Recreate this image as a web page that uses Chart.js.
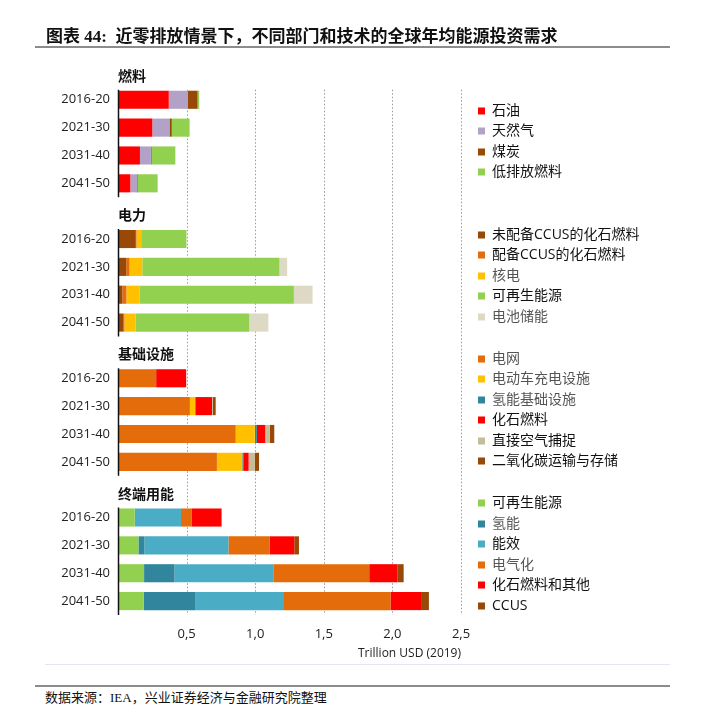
<!DOCTYPE html>
<html>
<head>
<meta charset="utf-8">
<script src="https://cdn.jsdelivr.net/npm/chart.js@4.4.1/dist/chart.umd.min.js"></script>
<style>
  body { margin: 0; background: #fff; width: 705px; height: 713px; position: relative; overflow: hidden; }
  #chartBox { position: absolute; left: 0; top: 0; }
  .title { position: absolute; left: 46px; top: 22px; font: bold 17px "Liberation Serif", "Noto Sans CJK SC"; color: #111; white-space: nowrap; }
  .rule { position: absolute; left: 35px; width: 635px; height: 2px; background: #8c8c8c; }
  .faint { position: absolute; left: 45px; top: 664px; width: 625px; height: 1px; background: #e3e8f0; }
  .source { position: absolute; left: 45px; top: 687px; font: 13px "Liberation Serif", "Noto Sans CJK SC"; color: #111; white-space: nowrap; }
</style>
</head>
<body>
<canvas id="chartBox" width="705" height="680"></canvas>
<div class="title">图表 44:&nbsp; 近零排放情景下，不同部门和技术的全球年均能源投资需求</div>
<div class="rule" style="top:46px"></div>
<div class="faint"></div>
<div class="rule" style="top:685px"></div>
<div class="source">数据来源：IEA，兴业证券经济与金融研究院整理</div>
<script>
// 기간 / 패널 이름
const periods = ['2016-20', '2021-30', '2031-40', '2041-50'];
const panelTitles = ['燃料', '电力', '基础设施', '终端用能'];
const xTicks = [0.5, 1.0, 1.5, 2.0, 2.5];

// 燃料
const fuelOil = [0.37, 0.25, 0.16, 0.09];
const fuelGas = [0.14, 0.125, 0.08, 0.05];
const fuelCoal = [0.07, 0.017, 0.005, 0.005];
const fuelLowEmission = [0.012, 0.13, 0.173, 0.144];
// 电力
const powerUnabated = [0.13, 0.06, 0.032, 0.037];
const powerCCUS = [0.005, 0.024, 0.029, 0.01];
const powerNuclear = [0.034, 0.093, 0.095, 0.08];
const powerRenew = [0.33, 1.0, 1.126, 0.83];
const powerBattery = [0, 0.056, 0.136, 0.139];
// 基础设施
const infraGrid = [0.278, 0.524, 0.858, 0.721];
const infraEV = [0, 0.037, 0.139, 0.185];
const infraH2 = [0, 0.005, 0.015, 0.007];
const infraFossil = [0.219, 0.119, 0.061, 0.039];
const infraDAC = [0, 0.007, 0.034, 0.044];
const infraCO2 = [0, 0.02, 0.032, 0.032];
// 终端用能
const endRenew = [0.122, 0.149, 0.19, 0.188];
const endH2 = [0, 0.044, 0.222, 0.378];
const endEff = [0.337, 0.612, 0.724, 0.644];
const endElec = [0.076, 0.302, 0.695, 0.776];
const endFossil = [0.22, 0.178, 0.207, 0.229];
const endCCUS = [0, 0.034, 0.044, 0.051];

// 패널, 범례 이름, 색, 값 (dim = 범례 글자 흐리게)
const series = [
  [0, '石油', '#FF0000', fuelOil, false],
  [0, '天然气', '#B3A2C7', fuelGas, false],
  [0, '煤炭', '#984807', fuelCoal, false],
  [0, '低排放燃料', '#92D050', fuelLowEmission, false],
  [1, '未配备CCUS的化石燃料', '#984807', powerUnabated, false],
  [1, '配备CCUS的化石燃料', '#E46C0A', powerCCUS, false],
  [1, '核电', '#FFC000', powerNuclear, true],
  [1, '可再生能源', '#92D050', powerRenew, false],
  [1, '电池储能', '#DDD9C4', powerBattery, true],
  [2, '电网', '#E46C0A', infraGrid, true],
  [2, '电动车充电设施', '#FFC000', infraEV, true],
  [2, '氢能基础设施', '#31859C', infraH2, true],
  [2, '化石燃料', '#FF0000', infraFossil, false],
  [2, '直接空气捕捉', '#C4BD97', infraDAC, false],
  [2, '二氧化碳运输与存储', '#984807', infraCO2, false],
  [3, '可再生能源', '#92D050', endRenew, false],
  [3, '氢能', '#31859C', endH2, true],
  [3, '能效', '#4BACC6', endEff, false],
  [3, '电气化', '#E46C0A', endElec, true],
  [3, '化石燃料和其他', '#FF0000', endFossil, false],
  [3, 'CCUS', '#984807', endCCUS, false]
];

// y축: 패널마다 제목 줄 1개 + 기간 4개
var labels = [];
for (var p = 0; p < panelTitles.length; p++) {
  labels.push('');
  for (var i = 0; i < periods.length; i++) labels.push(periods[i]);
}

var datasets = series.map(function(s) {
  var data = new Array(labels.length).fill(null);
  for (var i = 0; i < s[3].length; i++) data[s[0] * 5 + 1 + i] = s[3][i];
  return {
    label: s[1],
    data: data,
    backgroundColor: s[2],
    borderWidth: 0,
    barPercentage: 0.65,
    categoryPercentage: 1,
    panel: s[0],
    dim: s[4]
  };
});

const cjk = '"Open Sans", "Noto Sans CJK SC", sans-serif';
const legendShift = [0, -5, -10, -5];

// 점선 그리드, 패널별 y축선, 패널 제목, 범례
const decorPlugin = {
  id: 'decor',
  beforeDatasetsDraw: function(chart) {
    var ctx = chart.ctx, xs = chart.scales.x, ys = chart.scales.y, area = chart.chartArea;
    var half = ys.getPixelForValue(1) - ys.getPixelForValue(0);
    ctx.save();
    ctx.strokeStyle = '#9a9a9a';
    ctx.lineWidth = 1;
    ctx.setLineDash([1.5, 2]);
    xTicks.forEach(function(v) {
      var x = Math.round(xs.getPixelForValue(v)) + 0.5;
      ctx.beginPath();
      ctx.moveTo(x, ys.getPixelForValue(1) - half * 0.36);
      ctx.lineTo(x, area.bottom);
      ctx.stroke();
    });
    ctx.restore();
  },
  afterDatasetsDraw: function(chart) {
    var ctx = chart.ctx, xs = chart.scales.x, ys = chart.scales.y;
    var half = (ys.getPixelForValue(1) - ys.getPixelForValue(0)) / 2;
    var x0 = Math.round(xs.getPixelForValue(0)) + 0.5;
    ctx.save();
    for (var p = 0; p < panelTitles.length; p++) {
      var first = ys.getPixelForValue(p * 5 + 1), last = ys.getPixelForValue(p * 5 + 4);
      ctx.strokeStyle = '#111';
      ctx.lineWidth = 1.5;
      ctx.beginPath();
      ctx.moveTo(x0, first - half * 0.72);
      ctx.lineTo(x0, last + half);
      ctx.stroke();

      ctx.fillStyle = '#111';
      ctx.font = 'bold 14px ' + cjk;
      ctx.textAlign = 'left';
      ctx.textBaseline = 'middle';
      ctx.fillText(panelTitles[p], x0 - 0.5, ys.getPixelForValue(p * 5) + 5);

      // 범례
      var items = chart.data.datasets.filter(function(d) { return d.panel === p; });
      var mid = (first + last) / 2 + legendShift[p];
      var step = 20.5;
      var y = mid - step * (items.length - 1) / 2;
      ctx.font = '14px ' + cjk;
      items.forEach(function(d) {
        ctx.fillStyle = d.backgroundColor;
        ctx.fillRect(478, Math.round(y) - 3.5, 7, 7);
        ctx.fillStyle = d.dim ? '#555' : '#111';
        ctx.fillText(d.label, 492, y);
        y += step;
      });
    }
    ctx.restore();
  }
};

new Chart(document.getElementById('chartBox'), {
  type: 'bar',
  data: { labels: labels, datasets: datasets },
  options: {
    indexAxis: 'y',
    responsive: false,
    animation: false,
    layout: { padding: { top: 58, right: 244, bottom: 15, left: 0 } },
    plugins: { legend: { display: false }, tooltip: { enabled: false } },
    scales: {
      x: {
        stacked: true,
        min: 0,
        max: 2.5,
        grid: { display: false },
        border: { display: false },
        ticks: {
          stepSize: 0.5,
          padding: 3,
          color: '#222',
          font: { family: 'Open Sans', size: 13 },
          callback: function(v) { return v === 0 ? '' : v.toFixed(1).replace('.', ','); }
        },
        title: {
          display: true,
          text: 'Trillion USD (2019)',
          align: 'end',
          color: '#222',
          font: { family: 'Open Sans', size: 12 }
        },
        afterFit: function(scale) { scale.height = 50; }
      },
      y: {
        stacked: true,
        grid: { display: false },
        border: { display: false },
        ticks: {
          autoSkip: false,
          padding: 0,
          color: '#222',
          font: { family: 'Open Sans', size: 13 }
        },
        afterFit: function(scale) { scale.width = 118; }
      }
    }
  },
  plugins: [decorPlugin]
});
</script>
</body>
</html>
